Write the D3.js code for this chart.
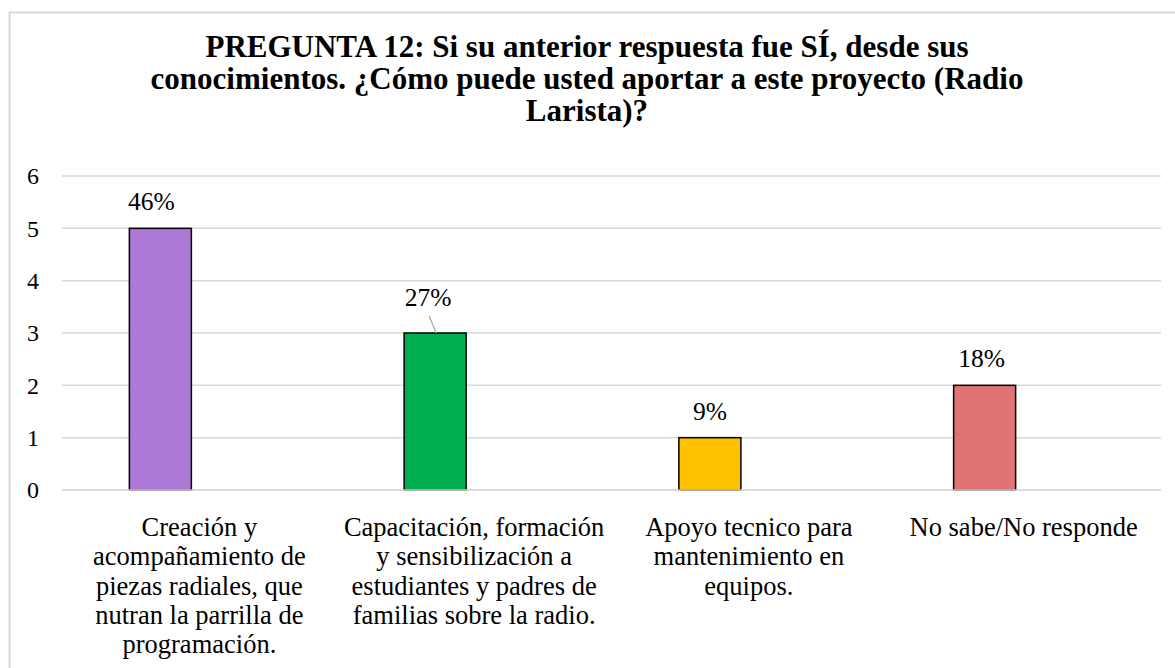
<!DOCTYPE html>
<html>
<head>
<meta charset="utf-8">
<script src="https://cdn.jsdelivr.net/npm/d3@7"></script>
<style>
	body { margin: 0; background: #fff; }
</style>
</head>
<body>
<svg id="chart" width="1175" height="668" font-family="'Liberation Serif', 'DejaVu Serif', serif"></svg>
<script>
// data
var categories = [
	"Creación y\nacompañamiento de\npiezas radiales, que\nnutran la parrilla de\nprogramación.",
	"Capacitación, formación\ny sensibilización a\nestudiantes y padres de\nfamilias sobre la radio.",
	"Apoyo tecnico para\nmantenimiento en\nequipos.",
	"No sabe/No responde"
]
var counts = [5, 3, 1, 2]
var percents = ["46%", "27%", "9%", "18%"]
var colors = ["#ad78d6", "#00b050", "#ffc000", "#e07474"]
var yTicks = [0, 1, 2, 3, 4, 5, 6]
var titleLines = [
	"PREGUNTA 12: Si su anterior respuesta fue SÍ, desde sus",
	"conocimientos. ¿Cómo puede usted aportar a este proyecto (Radio",
	"Larista)?"
]

var serif = "Liberation Serif"
var svg = d3.select("#chart")

// chart frame
svg.append("rect")
.attr("x", 9.5)
.attr("y", 12.5)
.attr("width", 1180)
.attr("height", 670)
.attr("fill", "#fff")
.attr("stroke", "#d9d9d9")
.attr("stroke-width", 2)

svg.append("g")
.selectAll("text")
.data(titleLines)
.join("text")
.attr("x", 587)
.attr("y", (d, i) => 57 + i * 32)
.attr("text-anchor", "middle")
.attr("font-family", serif)
.attr("font-size", 31)
.attr("font-weight", "bold")
.text(d => d)

var x = d3.scaleBand()
.domain(categories)
.range([62, 1161])

var y = d3.scaleLinear()
.domain([0, 6])
.range([490, 176])

var barW = 62
var barShift = -39
var barX = d => x(d) + x.bandwidth() / 2 + barShift

// gridlines
svg.append("g")
.selectAll("line")
.data(yTicks)
.join("line")
.attr("x1", 62)
.attr("x2", 1161)
.attr("y1", d => y(d))
.attr("y2", d => y(d))
.attr("stroke", "#d9d9d9")
.attr("stroke-width", 1.5)

// y axis labels
var yAxis = d3.axisLeft(y)
.tickValues(yTicks)
.tickSize(0)
.tickPadding(0)
.tickFormat(d3.format("d"))

svg.append("g")
.attr("transform", "translate(39,0)")
.call(yAxis)
.attr("font-family", serif)
.attr("font-size", 24)
.call(g => g.select(".domain").remove())
.selectAll("text")
.attr("fill", "#000")

var rows = categories.map((c, i) => ({cat: c, v: counts[i], p: percents[i], col: colors[i]}))

svg.append("g")
.selectAll("rect")
.data(rows)
.join("rect")
.attr("x", d => barX(d.cat) - barW / 2)
.attr("y", d => y(d.v))
.attr("width", barW)
.attr("height", d => y(0) - y(d.v))
.attr("fill", d => d.col)
.attr("stroke", "#000")
.attr("stroke-width", 1.5)

// baseline over the bars
svg.append("line")
.attr("x1", 62)
.attr("x2", 1161)
.attr("y1", y(0))
.attr("y2", y(0))
.attr("stroke", "#d9d9d9")
.attr("stroke-width", 1.5)

// data labels; the second one was dragged up in the original, with a leader line
var lift = (d, i) => i == 1 ? 9 : 0
var labelDx = [-9, -7, 0, -3]

svg.append("g")
.selectAll("text")
.data(rows)
.join("text")
.attr("x", (d, i) => barX(d.cat) + labelDx[i])
.attr("y", (d, i) => y(d.v) - 18 - lift(d, i))
.attr("text-anchor", "middle")
.attr("font-family", serif)
.attr("font-size", 25.5)
.text(d => d.p)

svg.append("line")
.attr("x1", barX(categories[1]) - 6)
.attr("y1", y(counts[1]) - 17)
.attr("x2", barX(categories[1]) + 1)
.attr("y2", y(counts[1]))
.attr("stroke", "#a6a6a6")
.attr("stroke-width", 1.2)

// category labels
svg.append("g")
.selectAll("text")
.data(categories)
.join("text")
.attr("text-anchor", "middle")
.attr("font-family", serif)
.attr("font-size", 26.5)
.attr("x", d => x(d) + x.bandwidth() / 2)
.attr("y", 536)
.each(function(d) {
	let t = d3.select(this)
	let lines = d.split("\n")
	t.selectAll("tspan")
	.data(lines)
	.join("tspan")
	.attr("x", x(d) + x.bandwidth() / 2)
	.attr("dy", (l, i) => i == 0 ? 0 : 29.3)
	.text(l => l)
})
</script>
</body>
</html>
